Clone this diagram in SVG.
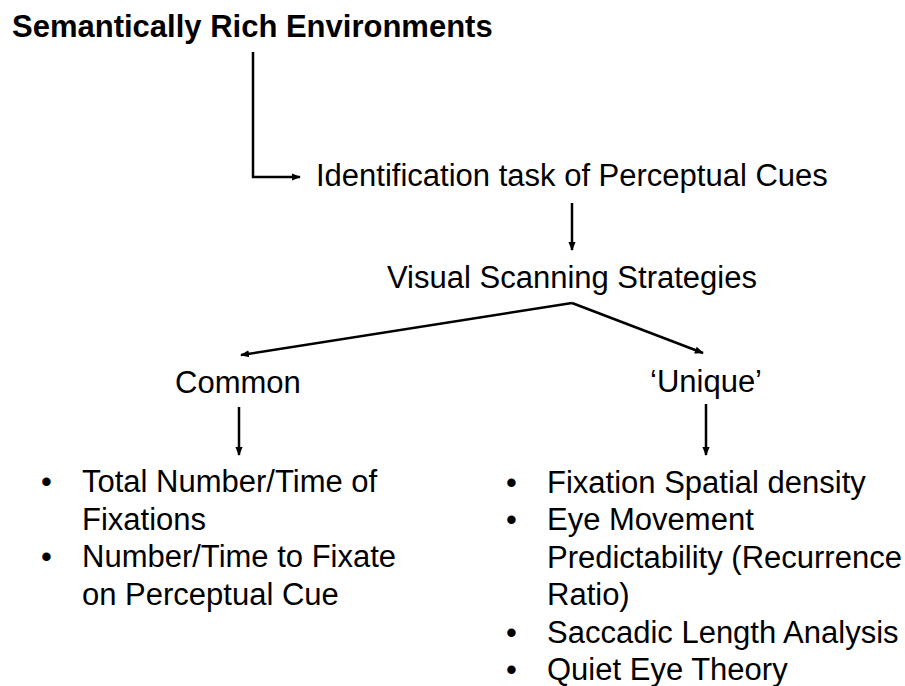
<svg xmlns="http://www.w3.org/2000/svg" width="905" height="686" viewBox="0 0 905 686">
<style>
text{font-family:"Liberation Sans",Arial,sans-serif;fill:#000;font-size:31px}
.t{font-weight:bold;font-size:31px}
.c{stroke:#000;stroke-width:2.5;fill:none}
</style>
<defs>
<marker id="a" viewBox="0 0 10 10" refX="9" refY="5" markerWidth="3.6" markerHeight="3.6" orient="auto" markerUnits="strokeWidth"><path d="M0,1 L10,5 L0,9 Z" fill="#000"/></marker>
</defs>
<rect width="905" height="686" fill="#fff"/>
<g id="connectors">
<path class="c" d="M253,52 V177 H300" marker-end="url(#a)"/>
<path class="c" d="M572,203 V250" marker-end="url(#a)"/>
<path class="c" d="M572,303 L241,355" marker-end="url(#a)"/>
<path class="c" d="M572,303 L703,353" marker-end="url(#a)"/>
<path class="c" d="M239,407 V455" marker-end="url(#a)"/>
<path class="c" d="M706,404 V455" marker-end="url(#a)"/>
</g>
<g id="title"><text class="t" x="12" y="37">Semantically Rich Environments</text></g>
<g id="identification"><text x="316" y="186">Identification task of Perceptual Cues</text></g>
<g id="visual"><text x="387" y="288">Visual Scanning Strategies</text></g>
<g id="common"><text x="175" y="393">Common</text></g>
<g id="unique"><text x="650" y="392">‘Unique’</text></g>
<g id="common-list">
<text x="41" y="492">•</text><text x="82" y="492">Total Number/Time of</text>
<text x="82" y="530">Fixations</text>
<text x="41" y="567">•</text><text x="82" y="567">Number/Time to Fixate</text>
<text x="82" y="605">on Perceptual Cue</text>
</g>
<g id="unique-list">
<text x="506" y="493">•</text><text x="547" y="493">Fixation Spatial density</text>
<text x="506" y="530">•</text><text x="547" y="530">Eye Movement</text>
<text x="547" y="568">Predictability (Recurrence</text>
<text x="547" y="605">Ratio)</text>
<text x="506" y="643">•</text><text x="547" y="643">Saccadic Length Analysis</text>
<text x="506" y="680">•</text><text x="547" y="680">Quiet Eye Theory</text>
</g>
</svg>
